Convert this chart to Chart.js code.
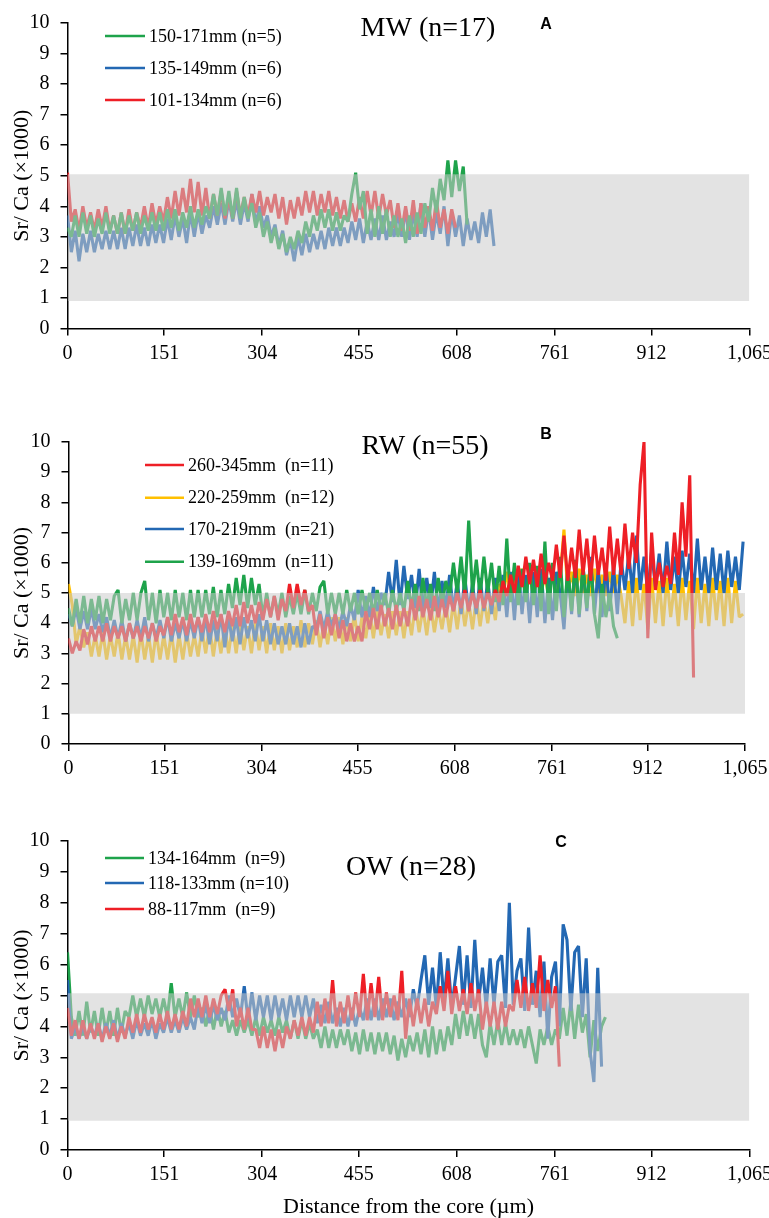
<!DOCTYPE html>
<html lang="en">
<head>
<meta charset="UTF-8">
<title>Sr/Ca profiles</title>
<script src="https://cdn.jsdelivr.net/npm/chart.js"></script>
<style>
  body { margin: 0; background: #fff; }
  .wrap { position: relative; width: 769px; height: 1218px; }
  canvas { position: absolute; left: 0; }
</style>
</head>
<body>
<div class="wrap">
  <canvas id="chartA" width="769" height="380" style="top:0"></canvas>
  <canvas id="chartB" width="769" height="400" style="top:390px"></canvas>
  <canvas id="chartC" width="769" height="428" style="top:790px"></canvas>
</div>
<script>
// samples are every 6 µm from the core
const STEP = 6;
const xTicks = [0, 151, 304, 455, 608, 761, 912, 1065];

// gray reference band [low, high] per panel
const bandA = [0.9, 5.05];
const bandB = [1.0, 5.0];
const bandC = [0.95, 5.07];

// --- A: MW ---
const greenA = [3.3,
  3.0,3.7,3.0,3.8,3.1,3.7,3.0,3.6,3.1,3.8,3.1,
  3.7,3.1,3.8,3.1,3.7,3.2,3.8,3.1,3.7,3.2,3.8,3.2,3.8,
  3.2,3.9,3.3,3.9,3.2,3.8,3.3,4.0,3.3,3.9,3.4,4.0,
  3.6,4.4,3.7,4.6,3.7,4.5,3.6,4.6,3.6,4.3,
  3.6,4.1,3.3,3.8,3.0,3.5,2.8,3.3,
  2.6,3.1,2.5,3.0,2.6,
  3.2,2.8,3.5,3.0,3.7,3.2,3.9,
  3.3,3.9,3.2,3.8,3.2,3.7,
  3.5,4.4,5.1,3.9,4.5,
  3.1,3.9,3.0,4.0,3.1,3.9,3.0,
  3.7,3.0,3.6,2.8,3.7,3.0,3.8,3.1,
  4.1,3.5,4.6,3.8,4.9,4.2,5.5,4.3,5.5,4.5,5.3,3.4];
const blueA = [3.7,2.5,
  3.2,2.2,3.1,2.5,3.2,2.5,3.1,2.6,3.2,2.6,
  3.2,2.6,3.3,2.6,3.3,2.7,3.4,2.7,3.3,2.7,3.4,2.8,3.4,
  2.8,3.6,2.9,3.7,3.0,3.6,2.8,3.8,3.0,3.8,3.1,3.7,
  3.3,4.0,3.4,4.1,3.4,4.2,3.5,4.2,3.4,4.1,
  3.5,4.4,3.4,4.0,3.3,
  3.7,3.0,3.4,2.7,3.2,2.4,2.9,2.2,
  3.0,2.4,3.1,2.5,3.1,2.6,3.2,2.6,3.3,2.7,3.3,2.7,3.3,
  2.8,3.5,2.9,3.6,2.8,3.5,2.9,3.6,2.9,3.7,2.9,3.5,
  3.0,3.8,3.0,3.9,2.9,3.8,3.0,4.1,3.0,3.9,2.9,3.8,3.1,4.0,2.7,3.8,3.0,
  3.7,2.7,3.6,2.9,3.5,2.8,3.8,3.0,3.9,2.7];
const redA = [5.1,3.5,
  3.9,3.2,4.0,3.3,3.8,3.2,3.9,3.3,4.0,3.2,
  3.7,3.1,3.8,3.1,3.9,3.2,3.8,3.3,4.0,3.3,4.1,3.4,4.0,
  3.5,4.3,3.6,4.5,3.7,4.6,3.8,4.9,3.8,4.8,3.7,4.6,
  3.6,4.4,3.7,4.5,3.6,4.3,3.6,4.5,3.7,4.3,
  3.7,4.4,3.8,4.5,3.7,4.3,3.8,4.4,3.6,4.3,
  3.4,4.2,3.6,4.3,3.7,
  4.5,3.8,4.5,3.7,4.4,3.8,4.5,3.7,4.3,3.6,
  4.2,3.5,4.1,3.5,
  4.3,3.6,4.5,3.7,4.5,3.6,4.4,3.7,4.2,
  3.3,4.1,3.2,4.0,3.2,4.2,3.1,4.1,3.3,4.0,3.2,4.2,3.3,3.9,3.1,3.9,3.3];

// --- B: RW ---
const redB = [3.5,3.0,3.4,3.1,3.8,3.3,3.9,
  3.4,3.9,3.4,4.0,3.4,3.9,3.5,3.9,3.4,4.0,3.5,3.9,3.4,3.9,3.5,4.0,3.4,3.9,
  3.6,4.2,3.6,4.3,3.7,4.2,3.6,4.3,3.7,4.2,3.7,
  4.3,3.7,4.4,3.8,4.3,3.7,4.4,3.9,
  4.6,3.9,4.7,4.0,4.6,4.0,4.7,
  4.1,4.8,4.2,4.9,4.1,4.8,4.4,
  5.3,4.5,5.3,4.6,5.1,
  4.4,4.6,
  3.6,4.3,3.5,4.2,3.6,4.3,3.5,4.1,3.4,4.0,3.4,3.9,3.4,
  4.4,3.8,4.5,3.8,4.6,3.9,4.5,3.8,4.6,3.9,4.5,3.9,
  4.8,4.1,4.9,4.2,4.8,4.1,4.9,4.2,4.8,4.2,4.9,
  4.4,5.0,4.5,5.1,4.4,5.0,4.5,5.1,4.5,5.0,4.6,5.1,4.7,
  5.4,4.9,5.6,5.0,5.9,
  5.2,6.2,5.3,6.1,5.2,6.3,5.3,6.0,
  5.4,6.6,5.5,6.9,5.4,6.5,5.5,7.1,5.6,6.8,5.4,6.9,5.6,6.5,5.4,7.2,5.6,6.8,
  5.6,7.3,5.8,7.0,6.0,8.6,
  10.0,3.5,7.0,
  5.1,6.0,5.2,5.9,5.3,
  7.0,5.6,8.0,6.2,8.9,2.2];
const yellowB = [5.3,4.6,3.3,3.9,3.2,
  3.7,2.9,3.6,2.9,3.7,2.8,3.6,2.9,3.7,2.8,3.6,
  2.8,3.6,2.7,3.7,2.8,3.6,2.7,3.7,2.8,3.6,2.8,3.7,2.7,3.6,2.8,3.7,2.9,3.6,
  2.9,3.8,3.0,3.9,2.9,3.8,3.0,3.9,
  3.0,3.9,3.0,4.0,3.1,3.9,3.0,4.0,3.1,3.9,3.0,4.0,3.1,3.9,3.0,4.0,3.1,3.9,
  3.2,4.1,3.2,4.0,3.3,4.1,3.2,4.0,3.3,
  4.2,3.4,4.2,3.3,4.2,3.4,4.3,3.4,4.2,
  3.5,4.4,3.5,4.4,3.6,4.3,3.5,4.4,3.6,4.4,3.5,4.4,
  3.6,4.6,3.7,4.5,3.6,4.6,3.7,4.5,3.8,4.6,3.7,
  4.7,3.8,4.8,3.9,4.7,3.8,4.8,3.9,4.8,4.0,4.9,4.1,
  5.3,4.9,5.7,5.0,5.6,4.9,5.8,5.0,5.6,4.9,5.7,5.0,5.6,4.9,5.8,5.0,5.5,7.1,5.0,5.7,4.9,5.8,5.0,5.6,4.9,5.8,5.0,5.6,4.9,5.7,5.0,5.6,4.9,
  4.0,5.4,3.9,5.5,4.1,5.3,3.8,5.5,4.0,5.4,3.9,5.5,4.2,5.3,3.9,5.5,4.1,5.4,3.8,5.5,4.0,5.3,3.9,5.5,4.1,5.4,3.9,5.5,4.0,5.4,4.2,4.3];
const blueB = [4.3,3.9,4.5,3.8,4.4,3.8,4.5,3.8,4.3,3.7,4.2,
  3.5,4.1,3.5,4.1,3.4,4.0,3.5,4.1,3.5,4.2,3.4,4.0,3.5,4.1,3.5,4.2,3.4,4.0,3.5,4.1,3.4,4.1,3.5,
  4.2,3.4,4.2,3.3,4.1,3.4,4.3,3.2,4.2,3.4,4.2,3.3,4.2,3.5,4.1,3.4,4.3,3.4,4.1,3.3,4.0,
  3.3,3.9,3.3,4.0,3.3,3.9,3.2,4.0,3.3,3.9,
  3.8,4.4,3.8,4.4,3.9,4.3,3.8,4.4,3.9,
  4.6,4.1,5.1,4.2,4.9,4.2,5.2,4.4,5.0,
  4.6,5.7,4.7,6.1,4.6,5.9,4.8,
  5.6,4.5,5.8,4.4,5.5,4.5,5.7,4.4,5.4,4.5,5.6,
  4.4,5.4,4.3,5.5,4.4,5.3,4.3,5.5,4.4,5.4,4.3,5.5,4.4,
  5.6,4.2,5.7,4.1,5.8,4.3,5.6,4.0,5.7,4.2,5.8,4.0,5.5,4.1,5.7,5.0,3.8,
  5.8,4.3,6.0,4.2,5.9,4.4,6.2,4.3,5.8,4.2,6.0,4.4,5.9,4.3,6.1,
  5.1,6.3,5.0,6.9,5.1,6.2,5.0,6.4,5.2,6.3,5.0,6.7,5.1,6.2,5.0,6.4,5.2,6.3,5.0,6.8,5.1,6.2,5.0,6.5,5.1,6.3,5.0,6.4,5.2,6.2,5.1,6.7];
const greenB = [4.5,3.9,4.8,4.0,4.9,4.0,4.8,4.1,4.9,4.0,4.8,4.1,4.9,5.1,4.0,4.8,
  4.1,5.0,4.1,5.0,5.4,4.1,5.0,4.0,5.1,4.2,5.0,4.1,5.1,4.2,5.0,4.1,5.1,4.2,
  5.1,4.2,5.1,4.3,5.2,4.2,5.1,4.3,
  5.3,4.5,5.5,4.6,5.6,4.5,5.5,4.6,5.3,
  4.2,5.0,4.2,4.9,4.3,5.0,4.2,4.9,4.3,
  5.0,4.3,5.1,4.3,5.0,4.4,5.2,5.4,4.3,5.0,
  4.3,5.0,4.3,5.1,4.4,5.0,4.3,5.1,4.4,5.0,4.3,5.1,4.4,5.0,4.3,5.1,4.4,5.0,
  4.4,5.4,4.5,5.3,4.4,5.5,4.5,5.3,4.4,5.5,4.6,5.4,
  4.9,6.0,5.0,6.2,4.9,7.4,5.0,6.1,4.9,6.2,5.0,6.0,
  4.7,5.9,4.6,6.8,4.7,6.0,4.6,5.8,4.7,6.0,4.6,5.9,
  4.4,6.7,4.3,6.0,4.4,6.2,4.2,5.8,4.4,6.1,4.3,5.9,4.5,6.0,4.3,
  3.5,5.3,4.2,5.0,3.9,3.5];

// --- C: OW ---
const greenC = [6.4,4.3,3.7,4.5,3.7,4.8,
  3.8,4.5,3.7,4.6,3.8,4.5,3.7,4.6,3.8,4.5,
  4.3,5.0,4.3,4.9,4.3,5.0,4.4,4.9,4.3,
  4.9,4.3,5.4,4.3,4.9,
  4.3,5.1,4.3,5.0,4.3,
  4.6,4.0,4.6,3.9,4.6,4.0,4.5,
  3.8,4.2,3.7,4.2,3.8,4.2,3.7,
  4.3,3.7,4.3,3.8,4.2,3.7,4.3,3.8,4.2,
  3.6,4.2,3.6,4.2,3.6,4.1,3.6,
  3.9,3.3,4.0,3.3,3.9,3.3,3.9,3.4,3.9,
  3.2,3.8,3.1,3.9,3.2,3.8,3.1,3.8,3.2,3.8,3.1,3.7,
  2.9,3.6,3.0,3.7,3.2,3.8,
  3.1,3.9,3.0,4.0,3.1,3.9,3.2,4.0,3.4,
  4.4,3.6,4.5,3.7,4.4,3.6,4.4,
  3.4,3.0,4.1,3.4,4.2,3.4,4.1,3.4,
  3.9,3.4,3.9,3.3,4.0,3.4,2.8,3.9,3.4,4.0,3.4,3.9,
  3.6,4.6,3.7,4.8,3.6,4.7,3.8,4.4,
  3.0,4.2,3.2,4.0,4.3];
const blueC = [5.5,3.6,4.0,3.6,4.0,3.6,4.0,
  3.7,4.1,3.6,4.1,3.7,4.2,3.6,4.1,3.7,4.1,3.6,4.2,3.7,4.1,3.7,4.2,3.6,4.1,
  3.8,4.3,3.8,4.2,3.8,4.3,3.9,4.3,3.9,
  4.7,4.1,4.7,4.1,4.7,4.2,4.6,4.2,
  5.0,4.3,4.9,4.3,5.3,
  4.2,5.1,4.2,5.0,4.3,5.0,4.2,5.0,4.3,4.9,4.2,5.0,4.3,
  5.0,4.3,5.0,4.3,4.9,
  4.1,4.7,4.1,4.8,4.1,
  4.6,4.0,4.6,4.0,4.6,4.0,4.6,
  4.2,4.9,4.2,4.9,4.2,4.9,4.3,4.9,4.2,4.8,
  4.3,4.9,4.3,5.2,
  4.6,5.5,6.3,4.7,5.9,4.6,6.4,4.8,6.2,4.6,5.6,6.6,4.7,6.3,4.6,6.8,4.8,5.9,4.6,6.2,
  4.7,6.1,6.3,4.6,8.0,4.7,5.8,6.2,4.5,7.2,4.7,5.8,4.3,6.1,3.6,5.6,6.1,4.0,7.3,6.8,
  4.5,6.4,6.6,4.3,6.2,3.2,2.2,5.9,2.7];
const redC = [4.6,3.7,4.2,3.6,4.2,3.6,4.1,
  3.6,4.1,3.5,4.0,3.6,4.1,3.5,4.0,3.6,
  4.3,3.8,4.4,3.8,4.4,3.9,4.3,3.8,4.4,
  3.9,4.5,3.9,4.4,3.9,4.5,4.0,
  4.9,4.3,4.9,4.3,5.0,4.3,4.9,4.4,5.0,
  5.2,4.5,5.2,
  4.0,4.6,3.9,4.6,3.9,
  3.9,3.3,4.0,3.3,3.9,3.2,3.9,3.3,4.0,
  3.6,4.2,3.7,4.3,3.7,4.3,3.8,
  4.8,4.0,4.9,4.1,5.5,4.0,4.8,4.1,
  5.0,4.2,5.1,4.3,5.7,4.2,5.4,4.3,5.6,4.2,5.1,4.3,5.0,4.2,5.8,
  3.6,4.9,4.0,4.9,4.1,4.9,4.0,4.8,
  4.4,5.3,4.5,5.8,4.4,5.3,4.5,5.2,4.4,5.4,4.5,5.2,
  3.9,4.8,4.0,4.8,3.9,4.8,4.0,4.7,
  4.5,5.5,4.6,5.6,4.5,5.4,4.6,6.3,4.5,5.5,4.6,5.3,2.7];

const GREEN = '#1ea34b', BLUE = '#2368b3', RED = '#ee1f26', YELLOW = '#ffc000';
const SERIF = '"Liberation Serif", "Times New Roman", serif';

function toPoints(values) {
  return values.map((v, i) => ({ x: i * STEP, y: v }));
}

function makePanel(id, p) {
  const datasets = p.series.map(s => ({
    label: s.label,
    data: toPoints(s.values),
    borderColor: s.color,
    borderWidth: 3.1,
    borderJoinStyle: 'bevel',
    pointRadius: 0,
    tension: 0,
    fill: false,
    order: s.order
  }));
  // translucent band drawn over the traces
  datasets.push({
    label: 'band',
    data: [{ x: 0, y: p.band[1] }, { x: 1065, y: p.band[1] }],
    borderColor: 'transparent',
    borderWidth: 0,
    pointRadius: 0,
    fill: { value: p.band[0] },
    backgroundColor: 'rgba(203,203,203,0.54)',
    order: 0
  });

  const decor = {
    id: 'decor',
    afterDraw(chart) {
      const ctx = chart.ctx;
      ctx.save();
      ctx.fillStyle = '#000';
      ctx.textBaseline = 'middle';
      ctx.textAlign = 'center';
      ctx.font = '28px ' + SERIF;
      ctx.fillText(p.title, p.titlePos[0], p.titlePos[1]);
      ctx.font = 'bold 16px "Liberation Sans", Arial, sans-serif';
      ctx.fillText(p.letter, p.letterPos[0], p.letterPos[1]);
      ctx.font = '18px ' + SERIF;
      ctx.textAlign = 'left';
      p.series.forEach((s, k) => {
        const y = p.legendY[k];
        ctx.strokeStyle = s.color;
        ctx.lineWidth = 2.5;
        ctx.beginPath();
        ctx.moveTo(p.legendLine[0], y);
        ctx.lineTo(p.legendLine[1], y);
        ctx.stroke();
        ctx.fillText(s.label, p.legendLine[1] + 4, y + 1);
      });
      ctx.restore();
    }
  };

  const canvas = document.getElementById(id);
  new Chart(canvas.getContext('2d'), {
    type: 'line',
    data: { datasets },
    plugins: [decor],
    options: {
      responsive: false,
      animation: false,
      devicePixelRatio: 1,
      layout: { padding: { top: p.top, right: 769 - p.right, left: 0, bottom: 0 } },
      plugins: { legend: { display: false }, tooltip: { enabled: false } },
      scales: {
        x: {
          type: 'linear',
          min: 0,
          max: 1065,
          afterBuildTicks: s => { s.ticks = xTicks.map(v => ({ value: v })); },
          afterFit: s => { s.height = canvas.height - p.bottom; s.paddingLeft = 0; s.paddingRight = 0; },
          ticks: {
            autoSkip: false, maxRotation: 0, padding: 6, color: '#000',
            font: { family: SERIF, size: 20 },
            callback: v => v.toLocaleString('en-US')
          },
          grid: { drawOnChartArea: false, drawTicks: true, tickLength: 7, color: '#000', lineWidth: 1.5 },
          border: { color: '#000', width: 1.5 },
          title: {
            display: !!p.xTitle, text: p.xTitle || '', color: '#000',
            font: { family: SERIF, size: 22, lineHeight: 1 },
            padding: { top: 0, bottom: 0 }
          }
        },
        y: {
          min: 0,
          max: 10,
          afterFit: s => { s.width = p.left; },
          ticks: { stepSize: 1, padding: 11, color: '#000', font: { family: SERIF, size: 20 } },
          grid: { drawOnChartArea: false, drawTicks: true, tickLength: 7, color: '#000', lineWidth: 1.5 },
          border: { color: '#000', width: 1.5 },
          title: {
            display: true, text: 'Sr/ Ca (×1000)', color: '#000',
            font: { family: SERIF, size: 22, lineHeight: 1 },
            padding: { top: 11, bottom: 0 }
          }
        }
      }
    }
  });
}

makePanel('chartA', {
  series: [
    { label: '150-171mm (n=5)', color: GREEN, values: greenA, order: 1 },
    { label: '135-149mm (n=6)', color: BLUE, values: blueA, order: 3 },
    { label: '101-134mm (n=6)', color: RED, values: redA, order: 2 }
  ],
  band: bandA,
  top: 19.5, bottom: 328.5, left: 67.5, right: 749.5,
  title: 'MW (n=17)', titlePos: [428, 29],
  letter: 'A', letterPos: [546, 25],
  legendY: [36, 68, 100], legendLine: [105, 145]
});

makePanel('chartB', {
  series: [
    { label: '260-345mm  (n=11)', color: RED, values: redB, order: 1 },
    { label: '220-259mm  (n=12)', color: YELLOW, values: yellowB, order: 4 },
    { label: '170-219mm  (n=21)', color: BLUE, values: blueB, order: 3 },
    { label: '139-169mm  (n=11)', color: GREEN, values: greenB, order: 2 }
  ],
  band: bandB,
  top: 52, bottom: 354, left: 68.5, right: 745,
  title: 'RW (n=55)', titlePos: [425, 57],
  letter: 'B', letterPos: [546, 45],
  legendY: [75, 107.7, 139, 171.7], legendLine: [145, 184]
});

makePanel('chartC', {
  series: [
    { label: '134-164mm  (n=9)', color: GREEN, values: greenC, order: 3 },
    { label: '118-133mm (n=10)', color: BLUE, values: blueC, order: 2 },
    { label: '88-117mm  (n=9)', color: RED, values: redC, order: 1 }
  ],
  band: bandC,
  top: 51, bottom: 360, left: 67.5, right: 749.5,
  title: 'OW (n=28)', titlePos: [411, 78],
  letter: 'C', letterPos: [561, 53],
  legendY: [68, 93, 119], legendLine: [105, 144],
  xTitle: 'Distance from the core (µm)'
});
</script>
</body>
</html>
